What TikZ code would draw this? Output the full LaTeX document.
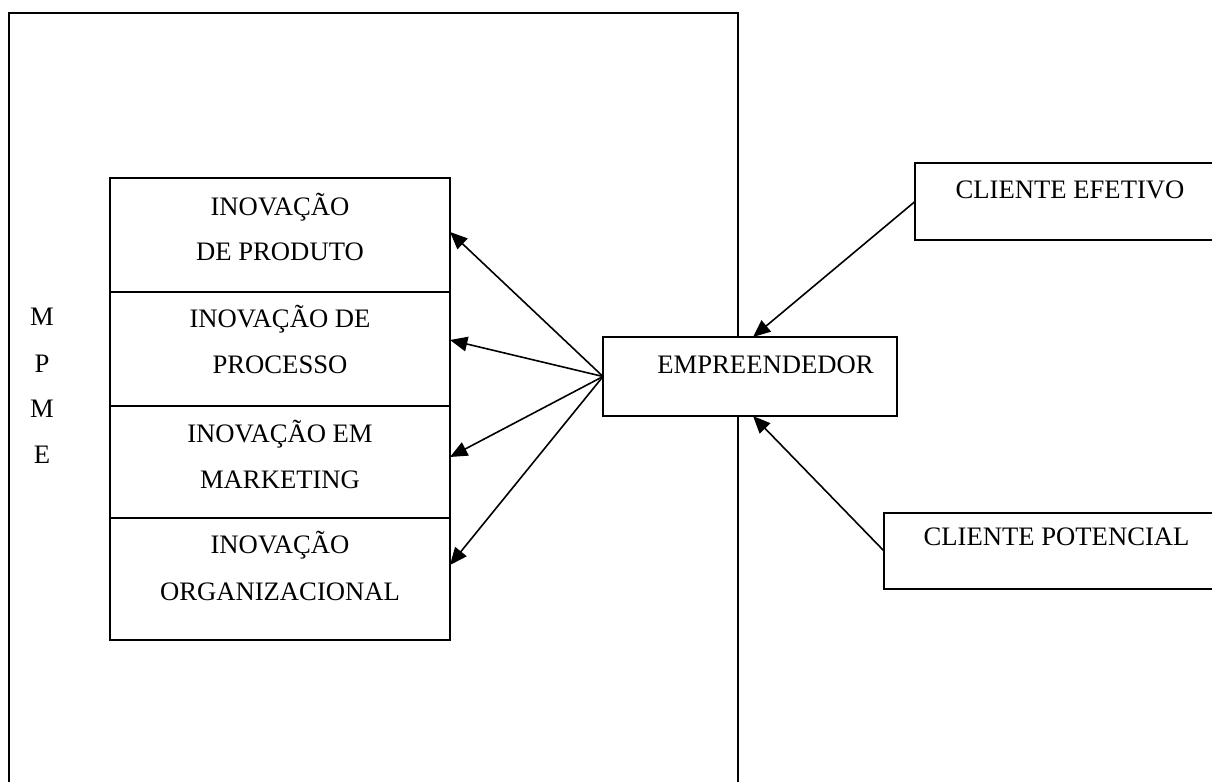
\documentclass[tikz,border=0pt]{standalone}
\usepackage{fontspec}
\setmainfont{Liberation Serif}
\usetikzlibrary{arrows.meta,calc}
\tikzset{
  frame/.style={draw, line width=1.5pt, inner sep=0pt, outer sep=0pt, anchor=north west},
  boxn/.style={draw, line width=1.5pt, fill=white, inner sep=0pt, outer sep=0pt, anchor=north west},
  txt/.style={inner sep=0pt, outer sep=0pt, anchor=base, font=\fontsize{20}{24}\selectfont},
  arr/.style={line width=1.2pt, -{Triangle[length=13pt,width=11pt]}}
}
\begin{document}
\begin{tikzpicture}[x=0.75pt,y=-0.75pt]
\clip (0,0) rectangle (1212,781);
\fill[white] (0,0) rectangle (1212,781);
% outer frame
\node (mpme) [frame, minimum width=546.75pt, minimum height=600pt] at (9,13) {};
% MPME letters
\node (l1) [txt] at (42,325) {M};
\node (l2) [txt] at (42,372) {P};
\node (l3) [txt] at (42,417) {M};
\node (l4) [txt] at (42,463) {E};
% stack of innovation boxes
\node (p1) [boxn, minimum width=255pt, minimum height=85.5pt] at (110,178) {};
\node (p2) [boxn, minimum width=255pt, minimum height=85.5pt] at (110,292) {};
\node (p3) [boxn, minimum width=255pt, minimum height=84pt] at (110,406) {};
\node (p4) [boxn, minimum width=255pt, minimum height=91.5pt] at (110,518) {};
\node (t1a) [txt] at (280,215) {INOVAÇÃO};
\node (t1b) [txt] at (280,260) {DE PRODUTO};
\node (t2a) [txt] at (280,327) {INOVAÇÃO DE};
\node (t2b) [txt] at (280,373) {PROCESSO};
\node (t3a) [txt] at (280,442) {INOVAÇÃO EM};
\node (t3b) [txt] at (280,488) {MARKETING};
\node (t4a) [txt] at (280,553) {INOVAÇÃO};
\node (t4b) [txt] at (280,600) {ORGANIZACIONAL};
% empreendedor
\node (emp) [boxn, minimum width=220.5pt, minimum height=59.25pt] at (603,337) {};
\node (empt) [txt] at (765.5,373) {EMPREENDEDOR};
% clients
\node (cef) [boxn, minimum width=236.25pt, minimum height=57.75pt] at (915,163) {};
\node (ceft) [txt] at (1070,198) {CLIENTE EFETIVO};
\node (cpo) [boxn, minimum width=259.5pt, minimum height=57pt] at (884,513) {};
\node (cpot) [txt] at (1056.5,545) {CLIENTE POTENCIAL};
% arrows
\draw[arr] (emp.west) -- ($(p1.north east)+(0,54)$);
\draw[arr] (emp.west) -- ($(p2.north east)+(0,48)$);
\draw[arr] (emp.west) -- ($(p3.north east)+(0,51)$);
\draw[arr] (emp.west) -- ($(p4.north east)+(0,47)$);
\draw[arr] (cef.west) -- ($(emp.north west)+(150,0)$);
\draw[arr] (cpo.west) -- ($(emp.south west)+(150,0)$);
\end{tikzpicture}
\end{document}
